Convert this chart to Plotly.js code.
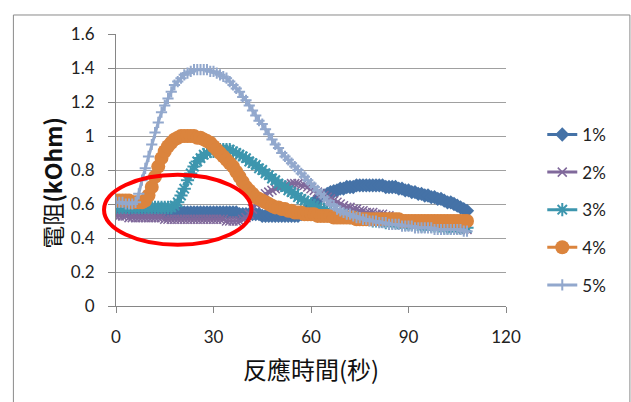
<!DOCTYPE html>
<html>
<head>
<meta charset="utf-8">
<script src="https://cdn.plot.ly/plotly-3.0.1.min.js"></script>
<style>body{margin:0;padding:0;background:#fff;}#chart{width:631px;height:402px;}</style>
</head>
<body>
<div id="chart"></div>
<script>
var timeSec = [0,1,2,3,4,5,6,7,8,9,10,11,12,13,14,15,16,17,18,19,20,21,22,23,24,25,26,27,28,29,30,31,32,33,34,35,36,37,38,39,40,41,42,43,44,45,46,47,48,49,50,51,52,53,54,55,56,57,58,59,60,61,62,63,64,65,66,67,68,69,70,71,72,73,74,75,76,77,78,79,80,81,82,83,84,85,86,87,88,89,90,91,92,93,94,95,96,97,98,99,100,101,102,103,104,105,106,107,108];

var seriesNames = ['1%','2%','3%','4%','5%'];

var r1pct = [0.57,0.57,0.56,0.56,0.56,0.56,0.55,0.55,0.55,0.55,0.55,
  0.55,0.55,0.55,0.55,0.55,0.55,0.55,0.55,0.55,0.55,
  0.55,0.55,0.55,0.55,0.55,0.55,0.55,0.55,0.55,0.55,
  0.55,0.55,0.55,0.55,0.55,0.55,0.55,0.54,0.54,0.54,
  0.54,0.54,0.54,0.54,0.53,0.53,0.53,0.53,0.53,0.53,
  0.53,0.53,0.53,0.53,0.53,0.53,0.54,0.55,0.57,0.59,
  0.61,0.63,0.64,0.65,0.66,0.67,0.675,0.68,0.69,0.69,
  0.70,0.70,0.70,0.71,0.71,0.71,0.71,0.71,0.71,0.71,
  0.71,0.71,0.70,0.70,0.70,0.70,0.69,0.69,0.68,0.68,
  0.67,0.67,0.66,0.66,0.65,0.65,0.64,0.64,0.63,0.63,
  0.62,0.61,0.61,0.60,0.59,0.58,0.57,0.56];

var r2pct = [0.53,0.53,0.53,0.53,0.52,0.52,0.52,0.52,0.52,0.52,0.52,
  0.52,0.52,0.52,0.52,0.51,0.51,0.51,0.51,0.51,0.51,
  0.51,0.51,0.51,0.51,0.51,0.51,0.51,0.51,0.51,0.51,
  0.51,0.51,0.51,0.50,0.50,0.50,0.50,0.50,0.51,0.52,
  0.54,0.57,0.60,0.62,0.64,0.66,0.67,0.68,0.69,0.70,
  0.70,0.71,0.71,0.72,0.72,0.72,0.71,0.71,0.70,0.69,
  0.68,0.67,0.66,0.65,0.64,0.63,0.62,0.61,0.60,0.59,
  0.58,0.58,0.57,0.57,0.56,0.56,0.55,0.55,0.55,0.54,
  0.54,0.54,0.53,0.53,0.52,0.52,0.51,0.51,0.50,0.50,
  0.49,0.49,0.49,0.48,0.48,0.48,0.48,0.47,0.47,0.47,
  0.47,0.46,0.46,0.46,0.46,0.45,0.45,0.45];

var r3pct = [0.58,0.58,0.58,0.58,0.58,0.58,0.58,0.58,0.58,0.58,0.58,
  0.58,0.58,0.58,0.58,0.58,0.58,0.58,0.59,0.61,0.65,
  0.69,0.74,0.78,0.82,0.85,0.87,0.89,0.90,0.91,0.91,
  0.92,0.92,0.92,0.92,0.92,0.91,0.90,0.89,0.88,0.87,
  0.85,0.84,0.83,0.81,0.80,0.78,0.77,0.75,0.74,0.72,
  0.71,0.70,0.68,0.67,0.66,0.64,0.63,0.62,0.61,0.60,
  0.59,0.58,0.57,0.57,0.56,0.55,0.55,0.54,0.54,0.53,
  0.53,0.52,0.52,0.52,0.51,0.51,0.51,0.51,0.50,0.50,
  0.50,0.50,0.49,0.49,0.49,0.49,0.49,0.48,0.48,0.48,
  0.48,0.48,0.48,0.47,0.47,0.47,0.47,0.47,0.47,0.47,
  0.46,0.46,0.46,0.46,0.46,0.46,0.46,0.46];

var r4pct = [0.62,0.62,0.62,0.62,0.62,0.61,0.61,0.61,0.61,0.62,0.65,
  0.70,0.76,0.82,0.87,0.91,0.94,0.96,0.98,0.99,1.00,
  1.00,1.00,1.00,1.00,0.99,0.99,0.98,0.97,0.96,0.94,
  0.92,0.90,0.88,0.86,0.84,0.82,0.79,0.76,0.73,0.70,
  0.68,0.66,0.64,0.63,0.62,0.61,0.60,0.59,0.58,0.58,
  0.57,0.57,0.56,0.56,0.55,0.55,0.55,0.54,0.54,0.54,
  0.54,0.53,0.53,0.53,0.53,0.53,0.52,0.52,0.52,0.52,
  0.52,0.52,0.52,0.51,0.51,0.51,0.51,0.51,0.51,0.51,
  0.51,0.51,0.51,0.51,0.51,0.51,0.51,0.50,0.50,0.50,
  0.50,0.50,0.50,0.50,0.50,0.50,0.50,0.50,0.50,0.50,
  0.50,0.50,0.50,0.50,0.50,0.50,0.50,0.50];

var r5pct = [0.61,0.61,0.61,0.60,0.60,0.60,0.61,0.66,0.74,0.81,0.88,
  0.95,1.02,1.08,1.14,1.18,1.22,1.26,1.30,1.32,1.34,
  1.36,1.37,1.38,1.39,1.39,1.39,1.39,1.39,1.38,1.38,
  1.37,1.36,1.35,1.34,1.32,1.30,1.28,1.26,1.23,1.21,
  1.18,1.15,1.12,1.09,1.07,1.04,1.01,0.98,0.95,0.93,
  0.90,0.88,0.86,0.84,0.82,0.80,0.78,0.76,0.74,0.72,
  0.70,0.68,0.66,0.64,0.62,0.60,0.59,0.57,0.56,0.55,
  0.54,0.54,0.53,0.52,0.52,0.51,0.51,0.50,0.50,0.50,
  0.49,0.49,0.49,0.48,0.48,0.48,0.48,0.47,0.47,0.47,
  0.47,0.46,0.46,0.46,0.46,0.46,0.46,0.45,0.45,0.45,
  0.45,0.45,0.45,0.45,0.45,0.45,0.44,0.44];

var xTitle = '反應時間(秒)';
var yTitle = '電阻<b>(kOhm)</b>';

var seriesValues = [r1pct, r2pct, r3pct, r4pct, r5pct];
var colors = ['#4572A7', '#80699B', '#3D96AE', '#DB843D', '#92A8CD'];
var symbols = ['diamond', 'x-thin-open', 'asterisk-open', 'circle', 'cross-thin-open'];
var sizes = [11, 9, 11, 14, 8];
var mlw = [0, 1.5, 2, 0, 2];

var traces = seriesValues.map(function(v, i) {
  return {
    x: timeSec, y: v, name: seriesNames[i], type: 'scatter', mode: 'lines+markers',
    legendgroup: 'g' + i,
    line: {color: colors[i], width: 3},
    marker: {symbol: symbols[i], size: sizes[i], color: colors[i], line: {color: colors[i], width: mlw[i]}}
  };
});

var layout = {
  width: 631, height: 402,
  margin: {l: 116, r: 125, t: 34, b: 96},
  paper_bgcolor: '#ffffff', plot_bgcolor: '#ffffff',
  font: {family: 'Lato, "Noto Sans CJK TC", sans-serif', size: 17, color: '#222222'},
  showlegend: true,
  legend: {x: 1.093, xanchor: 'left', y: 0.695, yanchor: 'top', tracegroupgap: 12.5,
    font: {size: 17, color: '#222222'}, bgcolor: 'rgba(0,0,0,0)', itemsizing: 'trace'},
  xaxis: {range: [0, 120], tick0: 0, dtick: 30, showgrid: false, zeroline: false,
    showline: true, linecolor: '#868686', linewidth: 1,
    ticks: 'outside', ticklen: 6, tickcolor: '#868686', ticklabelstandoff: 10, fixedrange: true},
  yaxis: {range: [0, 1.6], tick0: 0, dtick: 0.2, showgrid: true, gridcolor: '#a0a0a0', gridwidth: 1,
    zeroline: false, showline: true, linecolor: '#868686', linewidth: 1,
    ticks: 'outside', ticklen: 7, tickcolor: '#868686', ticklabelstandoff: 10, fixedrange: true},
  annotations: [
    {text: xTitle, xref: 'paper', yref: 'paper', x: 0.5, y: -0.2316, xanchor: 'center', yanchor: 'middle',
     showarrow: false, font: {family: '"Noto Sans CJK TC", sans-serif', size: 24, color: '#111111'}},
    {text: yTitle, xref: 'paper', yref: 'paper', x: -0.1658, y: 0.454, xanchor: 'center', yanchor: 'middle',
     textangle: -90, showarrow: false, font: {family: '"Noto Sans CJK TC", Lato, sans-serif', size: 23, color: '#111111'}}
  ],
  shapes: [
    {type: 'rect', xref: 'paper', yref: 'paper', x0: -0.2631, x1: 1.3177, y0: -0.40, y1: 1.0699,
     line: {color: '#8a8a8a', width: 1}, layer: 'below'},
    {type: 'circle', xref: 'paper', yref: 'paper', x0: -0.0307, x1: 0.3474, y0: 0.2254, y1: 0.4827,
     line: {color: '#ff0000', width: 4}, layer: 'above'}
  ]
};

Plotly.newPlot('chart', traces, layout, {displayModeBar: false, staticPlot: true});
</script>
</body>
</html>
